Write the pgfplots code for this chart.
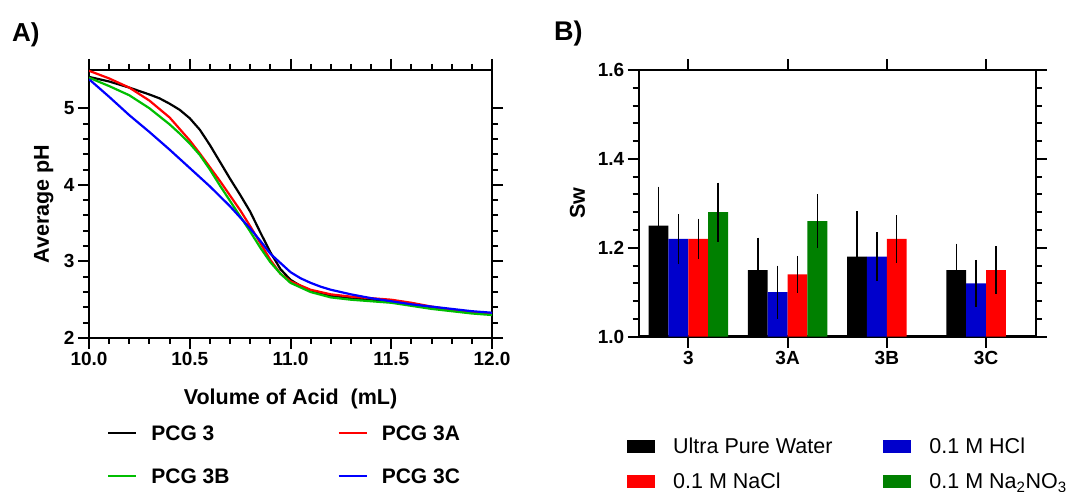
\documentclass[border=0pt]{standalone}
\usepackage{fontspec}
\setmainfont{Liberation Sans}
\usepackage{pgfplots}
\usepackage{pgfplotstable}
\pgfplotsset{compat=1.18}

\definecolor{lgreen}{RGB}{0,190,0}
\definecolor{bblue}{RGB}{0,0,204}
\definecolor{bgreen}{RGB}{0,128,0}

% Sw values, columns: group position, mean, error
\pgfplotstableread{
x y e
0 1.25 0.082
1 1.15 0.067
2 1.18 0.097
3 1.15 0.054
}\water
\pgfplotstableread{
x y e
0 1.22 0.050
1 1.10 0.054
2 1.18 0.049
3 1.12 0.047
}\hcl
\pgfplotstableread{
x y e
0 1.22 0.040
1 1.14 0.036
2 1.22 0.048
3 1.15 0.048
}\nacl
\pgfplotstableread{
x y e
0 1.28 0.061
1 1.26 0.055
}\nano

\pgfplotsset{
  panel/.style={
    scale only axis,
    anchor=south west,
    tick align=outside,
    major tick length=11pt,
    minor tick length=6pt,
    axis line style={line width=2.4pt},
    every outer x axis line/.append style={line width=2.4pt},
    every outer y axis line/.append style={line width=2.4pt},
    tick style={line width=2pt, black},
    /pgf/number format/assume math mode=true,
    tick label style={font=\fontsize{19}{22}\selectfont\bfseries},
    label style={font=\fontsize{21.5}{24}\selectfont\bfseries},
  },
  boxlegend/.style={legend image code/.code={
    \fill[##1,/tikz/.cd,draw=none] (0pt,-6.5pt) rectangle (28pt,6.5pt);}},
}

\begin{document}
\begin{tikzpicture}
\useasboundingbox (0,0) rectangle (1069pt,492pt);

\node[anchor=base west, font=\fontsize{26}{28}\selectfont\bfseries, inner sep=0pt] at (12pt,450pt) {A)};
\node[anchor=base west, font=\fontsize{27}{29}\selectfont\bfseries, inner sep=0pt] at (554pt,451pt) {B)};

% A) titration curves
\begin{axis}[panel,
  at={(89pt,154pt)},
  width=403pt, height=268pt,
  xmin=10, xmax=12, ymin=2, ymax=5.5,
  xtick={10,10.5,11,11.5,12},
  minor x tick num=4,
  ytick={2,3,4,5},
  minor y tick num=4,
  xticklabel style={/pgf/number format/.cd, fixed, fixed zerofill, precision=1},
  xlabel={Volume of Acid\ \ (mL)},
  ylabel={Average pH},
  xlabel style={at={(axis description cs:0.5,-0.2463)}, anchor=base},
  ylabel style={at={(axis description cs:-0.0993,0.5)}, anchor=base},
  legend columns=2,
  legend cell align=left,
  legend image code/.code={\draw[#1] (0pt,0pt) -- (28pt,0pt);},
  legend style={draw=none, fill=none, inner sep=0pt,
    at={(axis description cs:0.0447,-0.3265)}, anchor=north west,
    font=\fontsize{21}{24}\selectfont\bfseries,
    nodes={inner sep=0pt, text height=15pt, text depth=0pt},
    row sep=28pt,
    /tikz/every odd column/.append style={column sep=14pt},
    /tikz/every even column/.append style={column sep=108pt}},
  every axis plot/.append style={line width=2.2pt},
]
\addplot[black] coordinates {
(10.0,5.41) (10.1,5.35) (10.2,5.27) (10.3,5.18) (10.35,5.13) (10.4,5.06) (10.45,4.98)
(10.5,4.87) (10.55,4.72) (10.6,4.52) (10.65,4.30) (10.7,4.08) (10.75,3.87) (10.8,3.65)
(10.85,3.38) (10.9,3.12) (10.95,2.90) (11.0,2.76) (11.05,2.68) (11.1,2.62) (11.2,2.55)
(11.3,2.52) (11.4,2.50) (11.5,2.47) (11.6,2.43) (11.7,2.39) (11.8,2.36) (11.9,2.34) (12.0,2.32)};
\addlegendentry{PCG 3}
\addplot[red] coordinates {
(10.0,5.49) (10.1,5.39) (10.2,5.27) (10.3,5.10) (10.4,4.88) (10.47,4.67) (10.5,4.58)
(10.55,4.41) (10.6,4.23) (10.65,4.05) (10.7,3.86) (10.75,3.67) (10.8,3.46) (10.85,3.24)
(10.9,3.02) (10.95,2.84) (11.0,2.74) (11.1,2.63) (11.2,2.57) (11.3,2.54) (11.4,2.52)
(11.5,2.50) (11.6,2.46) (11.7,2.41) (11.8,2.37) (11.9,2.34) (12.0,2.32)};
\addlegendentry{PCG 3A}
\addplot[lgreen] coordinates {
(10.0,5.40) (10.1,5.29) (10.2,5.17) (10.3,5.00) (10.4,4.79) (10.45,4.67) (10.5,4.54)
(10.55,4.39) (10.6,4.20) (10.65,3.99) (10.7,3.79) (10.75,3.59) (10.8,3.39) (10.85,3.18)
(10.9,2.99) (10.95,2.84) (11.0,2.72) (11.1,2.60) (11.2,2.53) (11.3,2.50) (11.4,2.48)
(11.5,2.46) (11.6,2.42) (11.7,2.38) (11.8,2.35) (11.9,2.32) (12.0,2.30)};
\addlegendentry{PCG 3B}
\addplot[blue] coordinates {
(10.0,5.38) (10.1,5.15) (10.2,4.91) (10.3,4.69) (10.4,4.46) (10.5,4.22) (10.6,3.98)
(10.7,3.72) (10.8,3.43) (10.85,3.27) (10.9,3.10) (10.95,2.98) (11.0,2.86) (11.05,2.78)
(11.1,2.72) (11.15,2.67) (11.2,2.63) (11.3,2.57) (11.4,2.52) (11.5,2.48) (11.6,2.44)
(11.7,2.41) (11.8,2.38) (11.9,2.35) (12.0,2.33)};
\addlegendentry{PCG 3C}
\end{axis}

% B) Sw bars
\begin{axis}[panel,
  at={(638.7pt,155.3pt)},
  width=397pt, height=266.7pt,
  xmin=-0.5, xmax=3.5, ymin=1, ymax=1.6,
  xtick={0,1,2,3},
  xticklabels={3,3A,3B,3C},
  ytick={1,1.2,1.4,1.6},
  minor y tick num=4,
  yticklabel style={/pgf/number format/.cd, fixed, fixed zerofill, precision=1},
  ylabel={Sw},
  ylabel style={at={(axis description cs:-0.1353,0.5)}, anchor=base},
  ybar=0pt,
  bar width=0.2,
  legend columns=2,
  legend cell align=left,
  legend style={draw=none, fill=none, inner sep=0pt,
    at={(axis description cs:-0.0295,-0.3808)}, anchor=north west,
    font=\fontsize{21.5}{24}\selectfont,
    nodes={inner sep=0pt, text height=15.5pt, text depth=0pt},
    row sep=19.5pt,
    /tikz/every odd column/.append style={column sep=18pt},
    /tikz/every even column/.append style={column sep=51pt}},
  error bars/y dir=both,
  error bars/y explicit,
  error bars/error bar style={line width=1.4pt, black},
  error bars/error mark options={mark size=2.5pt, line width=1.4pt, black},
]
\addplot[fill=black, draw=none, boxlegend] table[x=x, y=y, y error=e] {\water};
\addlegendentry{Ultra Pure Water}
\addplot[fill=bblue, draw=none, boxlegend] table[x=x, y=y, y error=e] {\hcl};
\addlegendentry{0.1 M HCl}
\addplot[fill=red, draw=none, boxlegend] table[x=x, y=y, y error=e] {\nacl};
\addlegendentry{0.1 M NaCl}
\addplot[fill=bgreen, draw=none, boxlegend] table[x=x, y=y, y error=e] {\nano};
\addlegendentry{0.1 M Na\textsubscript{2}NO\textsubscript{3}}
\end{axis}
\end{tikzpicture}
\end{document}
